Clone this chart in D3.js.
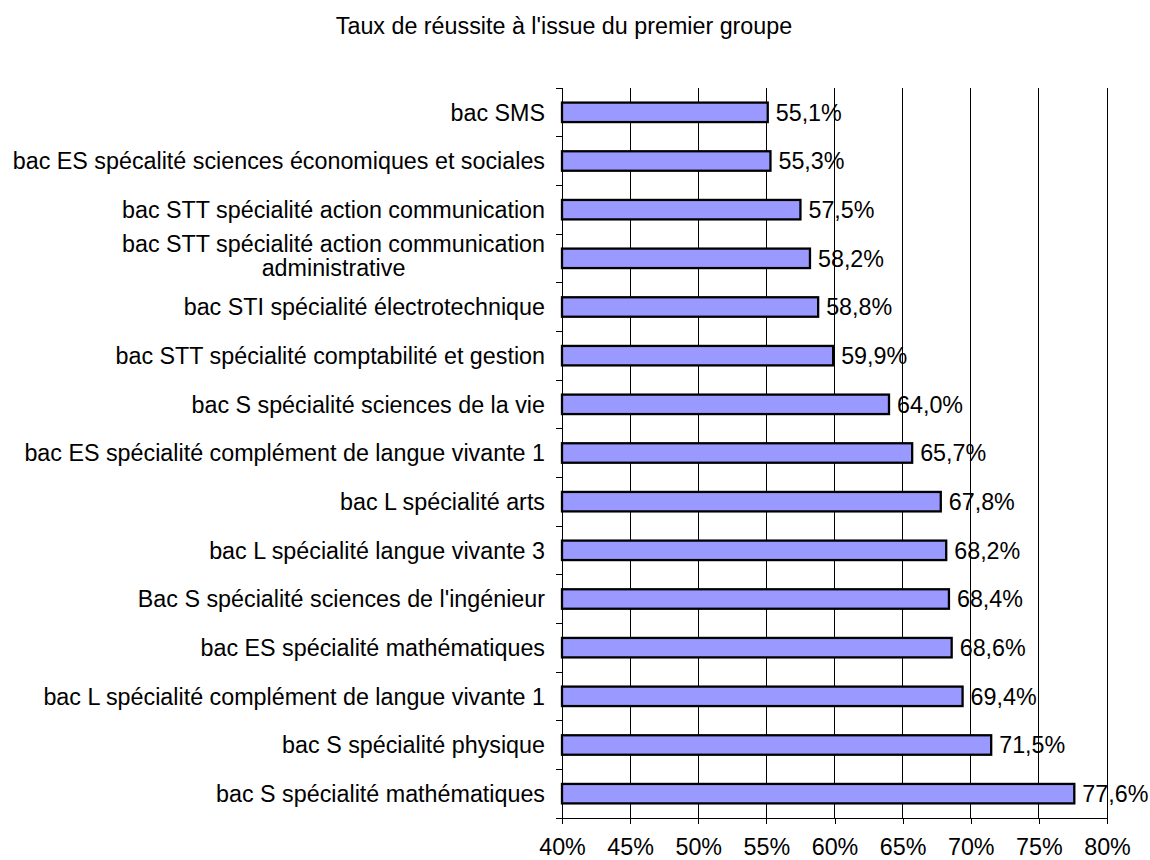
<!DOCTYPE html>
<html>
<head>
<meta charset="utf-8">
<script src="https://cdn.jsdelivr.net/npm/d3@7"></script>
<style>
  body { margin: 0; background: #fff; }
  svg text { font-family: "Liberation Sans", Arial, sans-serif; fill: #000; }
</style>
</head>
<body>
<div id="chart"></div>
<script>
var TITLE = "Taux de réussite à l'issue du premier groupe";

var categories = [
  "bac SMS",
  "bac ES spécalité sciences économiques et sociales",
  "bac STT spécialité action communication",
  "bac STT spécialité action communication administrative",
  "bac STI spécialité électrotechnique",
  "bac STT spécialité comptabilité et gestion",
  "bac S spécialité sciences de la vie",
  "bac ES spécialité complément de langue vivante 1",
  "bac L spécialité arts",
  "bac L spécialité langue vivante 3",
  "Bac S spécialité sciences de l'ingénieur",
  "bac ES spécialité mathématiques",
  "bac L spécialité complément de langue vivante 1",
  "bac S spécialité physique",
  "bac S spécialité mathématiques"
];
var values = [55.1, 55.3, 57.5, 58.2, 58.8, 59.9, 64.0, 65.7, 67.8, 68.2, 68.4, 68.6, 69.4, 71.5, 77.6];
var xTicks = [40, 45, 50, 55, 60, 65, 70, 75, 80];

var W = 1150, H = 860;
var plotLeft = 562, plotRight = 1107, plotTop = 88, plotBottom = 818;
var FONT = 23.3;

var fr = d3.formatLocale({decimal: ",", thousands: " ", grouping: [3], currency: ["", " €"]});
var fmt = fr.format(".1f");

var svg = d3.select('#chart').append('svg')
    .attr('width', W)
    .attr('height', H);

var x = d3.scaleLinear().domain([40, 80]).range([plotLeft, plotRight]);
var y = d3.scaleBand().domain(categories).range([plotTop, plotBottom]).paddingInner(0.6).paddingOuter(0.3);
var band = d3.scaleBand().domain(categories).range([plotTop, plotBottom]);

// title
svg.append('text')
    .attr('x', 564)
    .attr('y', 34)
    .attr('text-anchor', 'middle')
    .style('font-size', FONT + 'px')
    .text(TITLE);

// vertical grid lines
svg.append('g').selectAll('line').data(xTicks.slice(1)).enter().append('line')
    .attr('x1', function (d) { return x(d); })
    .attr('x2', function (d) { return x(d); })
    .attr('y1', plotTop)
    .attr('y2', plotBottom)
    .attr('stroke', '#000')
    .attr('stroke-width', 1)
    .attr('shape-rendering', 'crispEdges');

// x axis
var xAxis = d3.axisBottom(x)
    .tickValues(xTicks)
    .tickSize(6)
    .tickPadding(14)
    .tickFormat(function (d) { return d + '%'; });
var gx = svg.append('g')
    .attr('transform', 'translate(0,' + plotBottom + ')')
    .call(xAxis);
gx.select('.domain').remove();
gx.selectAll('.tick line').attr('stroke', '#000').attr('shape-rendering', 'crispEdges');
gx.selectAll('.tick text')
    .style('font-size', FONT + 'px')
    .style('font-family', '"Liberation Sans", Arial, sans-serif');
gx.append('line')
    .attr('x1', plotLeft - 6)
    .attr('x2', plotRight)
    .attr('y1', 0)
    .attr('y2', 0)
    .attr('stroke', '#000')
    .attr('shape-rendering', 'crispEdges');

// y axis line and ticks at category boundaries
var bounds = categories.map(function (c) { return band(c); }).concat([plotBottom]);
svg.append('line')
    .attr('x1', plotLeft).attr('x2', plotLeft)
    .attr('y1', plotTop).attr('y2', plotBottom)
    .attr('stroke', '#000')
    .attr('shape-rendering', 'crispEdges');
svg.append('g').selectAll('line').data(bounds).enter().append('line')
    .attr('x1', plotLeft - 6)
    .attr('x2', plotLeft)
    .attr('y1', function (d) { return d; })
    .attr('y2', function (d) { return d; })
    .attr('stroke', '#000')
    .attr('shape-rendering', 'crispEdges');

// bars
svg.append('g').selectAll('rect').data(values).enter().append('rect')
    .attr('x', x(40))
    .attr('y', function (d, i) { return y(categories[i]); })
    .attr('width', function (d) { return x(d) - x(40); })
    .attr('height', y.bandwidth())
    .attr('fill', '#9999FF')
    .attr('stroke', '#000')
    .attr('stroke-width', 2.3);

// value labels
svg.append('g').selectAll('text').data(values).enter().append('text')
    .attr('x', function (d) { return x(d) + 8; })
    .attr('y', function (d, i) { return band(categories[i]) + band.bandwidth() / 2; })
    .attr('dy', '0.36em')
    .style('font-size', FONT + 'px')
    .text(function (d) { return fmt(d) + '%'; });

// category labels, wrapped like the spreadsheet does
var MAXW = 550;
var labelX = 545;
var LINE = 24;
categories.forEach(function (c, i) {
  var t = svg.append('text')
      .attr('text-anchor', 'middle')
      .style('font-size', FONT + 'px');
  var words = c.split(' ');
  var lines = [];
  var cur = [];
  var probe = t.append('tspan');
  words.forEach(function (w) {
    cur.push(w);
    probe.text(cur.join(' '));
    if (probe.node().getComputedTextLength() > MAXW && cur.length > 1) {
      cur.pop();
      lines.push(cur.join(' '));
      cur = [w];
    }
  });
  lines.push(cur.join(' '));
  probe.remove();

  var widths = [];
  lines.forEach(function (l) {
    var s = t.append('tspan').text(l);
    widths.push(s.node().getComputedTextLength());
    s.remove();
  });
  var maxW = d3.max(widths);
  var cx = labelX - maxW / 2;
  var cy = band(c) + band.bandwidth() / 2;
  var y0 = cy - (lines.length - 1) * (LINE / 2 + 3);
  lines.forEach(function (l, k) {
    t.append('tspan')
        .attr('x', cx)
        .attr('y', y0 + k * LINE)
        .attr('dy', '0.36em')
        .text(l);
  });
});
</script>
</body>
</html>
